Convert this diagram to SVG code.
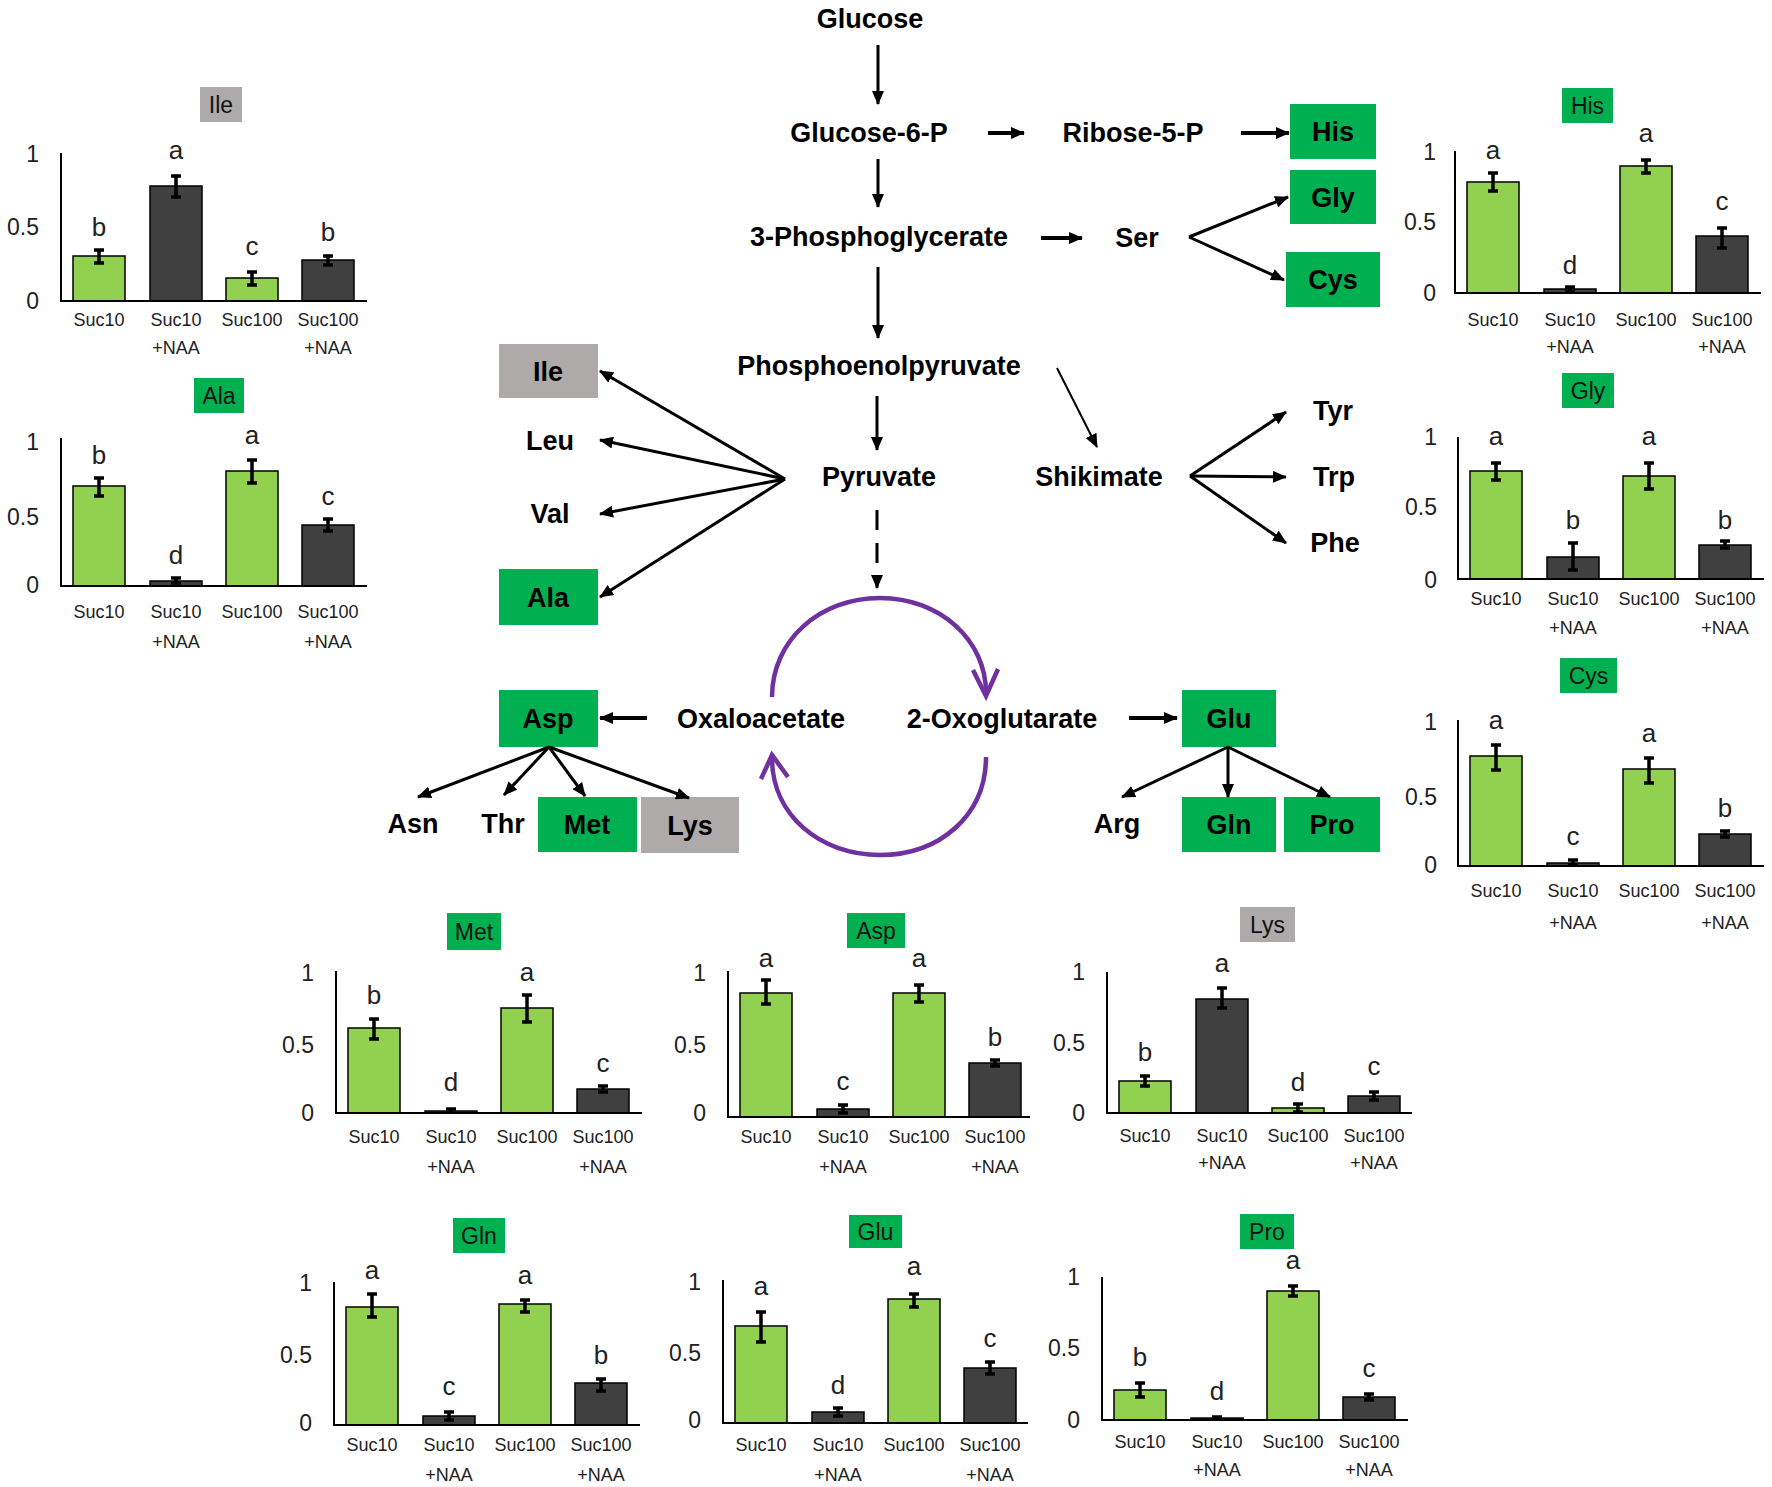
<svg xmlns="http://www.w3.org/2000/svg" width="1772" height="1487" viewBox="0 0 1772 1487">
<defs>
<style>
text{font-family:"Liberation Sans",Arial,sans-serif}
.tk{font-size:23px;text-anchor:end;fill:#222}
.lt{font-size:26px;text-anchor:middle;fill:#222}
.xl{font-size:18px;text-anchor:middle;fill:#222}
.tt{font-size:23px;text-anchor:middle;fill:#111}
.bg{fill:#92D050;stroke:#000;stroke-width:1.5}
.bd{fill:#404040;stroke:#000;stroke-width:1.5}
.ax{fill:none;stroke:#000;stroke-width:2}
.eb{fill:none;stroke:#000;stroke-width:3.5}
.gb{fill:#00B050}
.yb{fill:#AEAAAA}
.pw{font-size:27px;font-weight:bold;text-anchor:middle;fill:#000}
.ar{fill:none;stroke:#000;stroke-width:3;marker-end:url(#ah)}
.ark{fill:none;stroke:#000;stroke-width:4;marker-end:url(#ah)}
.cyc{fill:none;stroke:#7030A0;stroke-width:4.5}
</style>
<marker id="ah" markerUnits="userSpaceOnUse" viewBox="0 0 14 12" markerWidth="14" markerHeight="12" refX="13" refY="6" orient="auto"><path d="M0,0L14,6L0,12z" fill="#000"/></marker>
</defs>
<rect width="1772" height="1487" fill="#fff"/>

<!-- Pathway nodes -->
<g id="n-glucose"><text class="pw" x="870" y="28">Glucose</text></g>
<g id="n-g6p"><text class="pw" x="869" y="142">Glucose-6-P</text></g>
<g id="n-r5p"><text class="pw" x="1133" y="142">Ribose-5-P</text></g>
<g id="n-his"><rect class="gb" x="1290" y="104" width="86" height="55"/><text class="pw" x="1333" y="141">His</text></g>
<g id="n-3pg"><text class="pw" x="879" y="246">3-Phosphoglycerate</text></g>
<g id="n-ser"><text class="pw" x="1137" y="247">Ser</text></g>
<g id="n-gly"><rect class="gb" x="1290" y="170" width="86" height="54"/><text class="pw" x="1333" y="207">Gly</text></g>
<g id="n-cys"><rect class="gb" x="1286" y="252" width="94" height="55"/><text class="pw" x="1333" y="289">Cys</text></g>
<g id="n-pep"><text class="pw" x="879" y="375">Phosphoenolpyruvate</text></g>
<g id="n-pyr"><text class="pw" x="879" y="486">Pyruvate</text></g>
<g id="n-shik"><text class="pw" x="1099" y="486">Shikimate</text></g>
<g id="n-tyr"><text class="pw" x="1333" y="420">Tyr</text></g>
<g id="n-trp"><text class="pw" x="1334" y="486">Trp</text></g>
<g id="n-phe"><text class="pw" x="1335" y="552">Phe</text></g>
<g id="n-ile"><rect class="yb" x="499" y="344" width="99" height="54"/><text class="pw" x="548" y="381">Ile</text></g>
<g id="n-leu"><text class="pw" x="550" y="450">Leu</text></g>
<g id="n-val"><text class="pw" x="550" y="523">Val</text></g>
<g id="n-ala"><rect class="gb" x="499" y="569" width="99" height="56"/><text class="pw" x="548" y="607">Ala</text></g>
<g id="n-oaa"><text class="pw" x="761" y="728">Oxaloacetate</text></g>
<g id="n-2og"><text class="pw" x="1002" y="728">2-Oxoglutarate</text></g>
<g id="n-asp"><rect class="gb" x="499" y="690" width="99" height="57"/><text class="pw" x="548" y="728">Asp</text></g>
<g id="n-glu"><rect class="gb" x="1182" y="690" width="94" height="57"/><text class="pw" x="1229" y="728">Glu</text></g>
<g id="n-asn"><text class="pw" x="413" y="833">Asn</text></g>
<g id="n-thr"><text class="pw" x="503" y="833">Thr</text></g>
<g id="n-met"><rect class="gb" x="538" y="797" width="99" height="55"/><text class="pw" x="587" y="834">Met</text></g>
<g id="n-lys"><rect class="yb" x="641" y="797" width="98" height="56"/><text class="pw" x="690" y="835">Lys</text></g>
<g id="n-arg"><text class="pw" x="1117" y="833">Arg</text></g>
<g id="n-gln"><rect class="gb" x="1182" y="797" width="94" height="55"/><text class="pw" x="1229" y="834">Gln</text></g>
<g id="n-pro"><rect class="gb" x="1284" y="797" width="96" height="55"/><text class="pw" x="1332" y="834">Pro</text></g>

<!-- Connectors -->
<g id="connectors">
<line class="ar" x1="878" y1="45" x2="878" y2="104"/>
<line class="ark" x1="988" y1="133" x2="1024" y2="133"/>
<line class="ark" x1="1241" y1="133" x2="1289" y2="133"/>
<line class="ar" x1="878" y1="159" x2="878" y2="207"/>
<line class="ark" x1="1041" y1="238" x2="1082" y2="238"/>
<line class="ar" x1="1189" y1="237" x2="1288" y2="197"/>
<line class="ar" x1="1189" y1="237" x2="1284" y2="280"/>
<line class="ar" x1="878" y1="267" x2="878" y2="338"/>
<line class="ar" x1="877" y1="396" x2="877" y2="450"/>
<line class="ar" style="stroke-width:2" x1="1057" y1="368" x2="1097" y2="447"/>
<line class="ar" x1="785" y1="479" x2="600" y2="371"/>
<line class="ar" x1="785" y1="479" x2="600" y2="440"/>
<line class="ar" x1="785" y1="479" x2="600" y2="514"/>
<line class="ar" x1="785" y1="479" x2="600" y2="597"/>
<line class="ar" x1="1190" y1="476" x2="1286" y2="412"/>
<line class="ar" x1="1190" y1="476" x2="1286" y2="477"/>
<line class="ar" x1="1190" y1="476" x2="1286" y2="543"/>
<line class="ar" style="stroke-dasharray:20 13" x1="877" y1="510" x2="877" y2="588"/>
<line class="ark" x1="647" y1="718" x2="600" y2="718"/>
<line class="ark" x1="1129" y1="718" x2="1177" y2="718"/>
<line class="ar" x1="549" y1="747" x2="418" y2="797"/>
<line class="ar" x1="549" y1="747" x2="504" y2="795"/>
<line class="ar" x1="549" y1="747" x2="585" y2="796"/>
<line class="ar" x1="549" y1="747" x2="689" y2="798"/>
<line class="ar" x1="1228" y1="747" x2="1122" y2="797"/>
<line class="ar" x1="1228" y1="747" x2="1228" y2="797"/>
<line class="ar" x1="1228" y1="747" x2="1330" y2="797"/>
<path class="cyc" d="M772,697C772,640 820,598 880,598C940,598 986,640 986,693"/>
<path class="cyc" d="M973,670L986,696L998,669"/>
<path class="cyc" d="M986,757C986,815 940,855 880,855C820,855 772,815 772,758"/>
<path class="cyc" d="M761,779L772,755L788,777"/>
</g>

<!-- Charts -->
<g id="chart-ile" transform="translate(61,301)">
<rect class="yb" x="139" y="-214" width="42" height="35"/><text class="tt" x="160" y="-188">Ile</text>
<text class="tk" x="-22" y="-139">1</text><text class="tk" x="-22" y="-66">0.5</text><text class="tk" x="-22" y="8">0</text>
<rect class="bg" x="12" y="-45" width="52" height="45"/><rect class="bd" x="89" y="-115" width="52" height="115"/><rect class="bg" x="165" y="-23" width="52" height="23"/><rect class="bd" x="241" y="-41" width="52" height="41"/>
<path class="ax" d="M0,-148V0H306"/>
<path class="eb" d="M38,-51V-38M33,-51H43M33,-38H43M115,-125V-104M110,-125H120M110,-104H120M191,-29V-16M186,-29H196M186,-16H196M267,-45V-36M262,-45H272M262,-36H272"/>
<text class="lt" x="38" y="-65">b</text><text class="lt" x="115" y="-142">a</text><text class="lt" x="191" y="-46">c</text><text class="lt" x="267" y="-60">b</text>
<text class="xl" x="38" y="25">Suc10</text><text class="xl" x="115" y="25">Suc10</text><text class="xl" x="115" y="53">+NAA</text><text class="xl" x="191" y="25">Suc100</text><text class="xl" x="267" y="25">Suc100</text><text class="xl" x="267" y="53">+NAA</text>
</g>

<g id="chart-ala" transform="translate(61,586)">
<rect class="gb" x="133" y="-208" width="50" height="35"/><text class="tt" x="158" y="-182">Ala</text>
<text class="tk" x="-22" y="-136">1</text><text class="tk" x="-22" y="-61">0.5</text><text class="tk" x="-22" y="7">0</text>
<rect class="bg" x="12" y="-100" width="52" height="100"/><rect class="bd" x="89" y="-5" width="52" height="5"/><rect class="bg" x="165" y="-115" width="52" height="115"/><rect class="bd" x="241" y="-61" width="52" height="61"/>
<path class="ax" d="M0,-148V0H306"/>
<path class="eb" d="M38,-108V-90M33,-108H43M33,-90H43M115,-8V-3M110,-8H120M110,-3H120M191,-126V-103M186,-126H196M186,-103H196M267,-67V-55M262,-67H272M262,-55H272"/>
<text class="lt" x="38" y="-122">b</text><text class="lt" x="115" y="-22">d</text><text class="lt" x="191" y="-142">a</text><text class="lt" x="267" y="-81">c</text>
<text class="xl" x="38" y="32">Suc10</text><text class="xl" x="115" y="32">Suc10</text><text class="xl" x="115" y="62">+NAA</text><text class="xl" x="191" y="32">Suc100</text><text class="xl" x="267" y="32">Suc100</text><text class="xl" x="267" y="62">+NAA</text>
</g>

<g id="chart-his" transform="translate(1455,293)">
<rect class="gb" x="107" y="-205" width="51" height="35"/><text class="tt" x="132.5" y="-179">His</text>
<text class="tk" x="-19" y="-133">1</text><text class="tk" x="-19" y="-63">0.5</text><text class="tk" x="-19" y="8">0</text>
<rect class="bg" x="12" y="-111" width="52" height="111"/><rect class="bd" x="89" y="-4" width="52" height="4"/><rect class="bg" x="165" y="-127" width="52" height="127"/><rect class="bd" x="241" y="-57" width="52" height="57"/>
<path class="ax" d="M0,-142V0H306"/>
<path class="eb" d="M38,-120V-102M33,-120H43M33,-102H43M115,-6V-1M110,-6H120M110,-1H120M191,-133V-120M186,-133H196M186,-120H196M267,-65V-45M262,-65H272M262,-45H272"/>
<text class="lt" x="38" y="-134">a</text><text class="lt" x="115" y="-19">d</text><text class="lt" x="191" y="-151">a</text><text class="lt" x="267" y="-83">c</text>
<text class="xl" x="38" y="33">Suc10</text><text class="xl" x="115" y="33">Suc10</text><text class="xl" x="115" y="60">+NAA</text><text class="xl" x="191" y="33">Suc100</text><text class="xl" x="267" y="33">Suc100</text><text class="xl" x="267" y="60">+NAA</text>
</g>

<g id="chart-gly" transform="translate(1458,579)">
<rect class="gb" x="104" y="-206" width="52" height="35"/><text class="tt" x="130" y="-180">Gly</text>
<text class="tk" x="-21" y="-134">1</text><text class="tk" x="-21" y="-64">0.5</text><text class="tk" x="-21" y="9">0</text>
<rect class="bg" x="12" y="-108" width="52" height="108"/><rect class="bd" x="89" y="-22" width="52" height="22"/><rect class="bg" x="165" y="-103" width="52" height="103"/><rect class="bd" x="241" y="-34" width="52" height="34"/>
<path class="ax" d="M0,-142V0H306"/>
<path class="eb" d="M38,-116V-99M33,-116H43M33,-99H43M115,-36V-9M110,-36H120M110,-9H120M191,-116V-90M186,-116H196M186,-90H196M267,-38V-31M262,-38H272M262,-31H272"/>
<text class="lt" x="38" y="-134">a</text><text class="lt" x="115" y="-50">b</text><text class="lt" x="191" y="-134">a</text><text class="lt" x="267" y="-50">b</text>
<text class="xl" x="38" y="26">Suc10</text><text class="xl" x="115" y="26">Suc10</text><text class="xl" x="115" y="55">+NAA</text><text class="xl" x="191" y="26">Suc100</text><text class="xl" x="267" y="26">Suc100</text><text class="xl" x="267" y="55">+NAA</text>
</g>

<g id="chart-cys" transform="translate(1458,866)">
<rect class="gb" x="102" y="-208" width="57" height="35"/><text class="tt" x="130.5" y="-182">Cys</text>
<text class="tk" x="-21" y="-136">1</text><text class="tk" x="-21" y="-61">0.5</text><text class="tk" x="-21" y="7">0</text>
<rect class="bg" x="12" y="-110" width="52" height="110"/><rect class="bd" x="89" y="-3" width="52" height="3"/><rect class="bg" x="165" y="-97" width="52" height="97"/><rect class="bd" x="241" y="-32" width="52" height="32"/>
<path class="ax" d="M0,-146V0H306"/>
<path class="eb" d="M38,-121V-96M33,-121H43M33,-96H43M115,-6V-1M110,-6H120M110,-1H120M191,-108V-83M186,-108H196M186,-83H196M267,-35V-29M262,-35H272M262,-29H272"/>
<text class="lt" x="38" y="-137">a</text><text class="lt" x="115" y="-21">c</text><text class="lt" x="191" y="-124">a</text><text class="lt" x="267" y="-49">b</text>
<text class="xl" x="38" y="31">Suc10</text><text class="xl" x="115" y="31">Suc10</text><text class="xl" x="115" y="63">+NAA</text><text class="xl" x="191" y="31">Suc100</text><text class="xl" x="267" y="31">Suc100</text><text class="xl" x="267" y="63">+NAA</text>
</g>

<g id="chart-met" transform="translate(336,1113)">
<rect class="gb" x="111" y="-200" width="54" height="37"/><text class="tt" x="138" y="-173">Met</text>
<text class="tk" x="-22" y="-132">1</text><text class="tk" x="-22" y="-60">0.5</text><text class="tk" x="-22" y="8">0</text>
<rect class="bg" x="12" y="-85" width="52" height="85"/><rect class="bd" x="89" y="-2" width="52" height="2"/><rect class="bg" x="165" y="-105" width="52" height="105"/><rect class="bd" x="241" y="-24" width="52" height="24"/>
<path class="ax" d="M0,-142V0H306"/>
<path class="eb" d="M38,-94V-74M33,-94H43M33,-74H43M115,-4V0M110,-4H120M191,-118V-91M186,-118H196M186,-91H196M267,-27V-21M262,-27H272M262,-21H272"/>
<text class="lt" x="38" y="-109">b</text><text class="lt" x="115" y="-22">d</text><text class="lt" x="191" y="-132">a</text><text class="lt" x="267" y="-41">c</text>
<text class="xl" x="38" y="30">Suc10</text><text class="xl" x="115" y="30">Suc10</text><text class="xl" x="115" y="60">+NAA</text><text class="xl" x="191" y="30">Suc100</text><text class="xl" x="267" y="30">Suc100</text><text class="xl" x="267" y="60">+NAA</text>
</g>

<g id="chart-asp" transform="translate(728,1117)">
<rect class="gb" x="119" y="-204" width="58" height="35"/><text class="tt" x="148" y="-178">Asp</text>
<text class="tk" x="-22" y="-136">1</text><text class="tk" x="-22" y="-64">0.5</text><text class="tk" x="-22" y="4">0</text>
<rect class="bg" x="12" y="-124" width="52" height="124"/><rect class="bd" x="89" y="-8" width="52" height="8"/><rect class="bg" x="165" y="-124" width="52" height="124"/><rect class="bd" x="241" y="-54" width="52" height="54"/>
<path class="ax" d="M0,-146V0H302"/>
<path class="eb" d="M38,-137V-113M33,-137H43M33,-113H43M115,-12V-4M110,-12H120M110,-4H120M191,-132V-115M186,-132H196M186,-115H196M267,-57V-51M262,-57H272M262,-51H272"/>
<text class="lt" x="38" y="-150">a</text><text class="lt" x="115" y="-27">c</text><text class="lt" x="191" y="-150">a</text><text class="lt" x="267" y="-71">b</text>
<text class="xl" x="38" y="26">Suc10</text><text class="xl" x="115" y="26">Suc10</text><text class="xl" x="115" y="56">+NAA</text><text class="xl" x="191" y="26">Suc100</text><text class="xl" x="267" y="26">Suc100</text><text class="xl" x="267" y="56">+NAA</text>
</g>

<g id="chart-lys" transform="translate(1107,1113)">
<rect class="yb" x="133" y="-206" width="55" height="35"/><text class="tt" x="160.5" y="-180">Lys</text>
<text class="tk" x="-22" y="-133">1</text><text class="tk" x="-22" y="-62">0.5</text><text class="tk" x="-22" y="8">0</text>
<rect class="bg" x="12" y="-32" width="52" height="32"/><rect class="bd" x="89" y="-114" width="52" height="114"/><rect class="bg" x="165" y="-5" width="52" height="5"/><rect class="bd" x="241" y="-17" width="52" height="17"/>
<path class="ax" d="M0,-141V0H305"/>
<path class="eb" d="M38,-37V-27M33,-37H43M33,-27H43M115,-125V-105M110,-125H120M110,-105H120M191,-9V-1M186,-9H196M186,-1H196M267,-21V-13M262,-21H272M262,-13H272"/>
<text class="lt" x="38" y="-52">b</text><text class="lt" x="115" y="-141">a</text><text class="lt" x="191" y="-22">d</text><text class="lt" x="267" y="-38">c</text>
<text class="xl" x="38" y="29">Suc10</text><text class="xl" x="115" y="29">Suc10</text><text class="xl" x="115" y="56">+NAA</text><text class="xl" x="191" y="29">Suc100</text><text class="xl" x="267" y="29">Suc100</text><text class="xl" x="267" y="56">+NAA</text>
</g>

<g id="chart-gln" transform="translate(334,1425)">
<rect class="gb" x="119" y="-207" width="52" height="35"/><text class="tt" x="145" y="-181">Gln</text>
<text class="tk" x="-22" y="-134">1</text><text class="tk" x="-22" y="-62">0.5</text><text class="tk" x="-22" y="6">0</text>
<rect class="bg" x="12" y="-118" width="52" height="118"/><rect class="bd" x="89" y="-9" width="52" height="9"/><rect class="bg" x="165" y="-121" width="52" height="121"/><rect class="bd" x="241" y="-42" width="52" height="42"/>
<path class="ax" d="M0,-143V0H306"/>
<path class="eb" d="M38,-131V-108M33,-131H43M33,-108H43M115,-13V-5M110,-13H120M110,-5H120M191,-125V-113M186,-125H196M186,-113H196M267,-46V-34M262,-46H272M262,-34H272"/>
<text class="lt" x="38" y="-146">a</text><text class="lt" x="115" y="-30">c</text><text class="lt" x="191" y="-141">a</text><text class="lt" x="267" y="-61">b</text>
<text class="xl" x="38" y="26">Suc10</text><text class="xl" x="115" y="26">Suc10</text><text class="xl" x="115" y="56">+NAA</text><text class="xl" x="191" y="26">Suc100</text><text class="xl" x="267" y="26">Suc100</text><text class="xl" x="267" y="56">+NAA</text>
</g>

<g id="chart-glu" transform="translate(723,1423)">
<rect class="gb" x="126" y="-208" width="53" height="33"/><text class="tt" x="152.5" y="-183">Glu</text>
<text class="tk" x="-22" y="-133">1</text><text class="tk" x="-22" y="-62">0.5</text><text class="tk" x="-22" y="5">0</text>
<rect class="bg" x="12" y="-97" width="52" height="97"/><rect class="bd" x="89" y="-11" width="52" height="11"/><rect class="bg" x="165" y="-124" width="52" height="124"/><rect class="bd" x="241" y="-55" width="52" height="55"/>
<path class="ax" d="M0,-143V0H305"/>
<path class="eb" d="M38,-111V-81M33,-111H43M33,-81H43M115,-15V-7M110,-15H120M110,-7H120M191,-129V-116M186,-129H196M186,-116H196M267,-61V-49M262,-61H272M262,-49H272"/>
<text class="lt" x="38" y="-128">a</text><text class="lt" x="115" y="-29">d</text><text class="lt" x="191" y="-148">a</text><text class="lt" x="267" y="-76">c</text>
<text class="xl" x="38" y="28">Suc10</text><text class="xl" x="115" y="28">Suc10</text><text class="xl" x="115" y="58">+NAA</text><text class="xl" x="191" y="28">Suc100</text><text class="xl" x="267" y="28">Suc100</text><text class="xl" x="267" y="58">+NAA</text>
</g>

<g id="chart-pro" transform="translate(1102,1420)">
<rect class="gb" x="138" y="-206" width="54" height="35"/><text class="tt" x="165" y="-180">Pro</text>
<text class="tk" x="-22" y="-135">1</text><text class="tk" x="-22" y="-64">0.5</text><text class="tk" x="-22" y="8">0</text>
<rect class="bg" x="12" y="-30" width="52" height="30"/><rect class="bd" x="89" y="-2" width="52" height="2"/><rect class="bg" x="165" y="-129" width="52" height="129"/><rect class="bd" x="241" y="-23" width="52" height="23"/>
<path class="ax" d="M0,-143V0H306"/>
<path class="eb" d="M38,-37V-23M33,-37H43M33,-23H43M115,-3V0M110,-3H120M191,-134V-124M186,-134H196M186,-124H196M267,-26V-20M262,-26H272M262,-20H272"/>
<text class="lt" x="38" y="-54">b</text><text class="lt" x="115" y="-20">d</text><text class="lt" x="191" y="-151">a</text><text class="lt" x="267" y="-43">c</text>
<text class="xl" x="38" y="28">Suc10</text><text class="xl" x="115" y="28">Suc10</text><text class="xl" x="115" y="56">+NAA</text><text class="xl" x="191" y="28">Suc100</text><text class="xl" x="267" y="28">Suc100</text><text class="xl" x="267" y="56">+NAA</text>
</g>
</svg>
